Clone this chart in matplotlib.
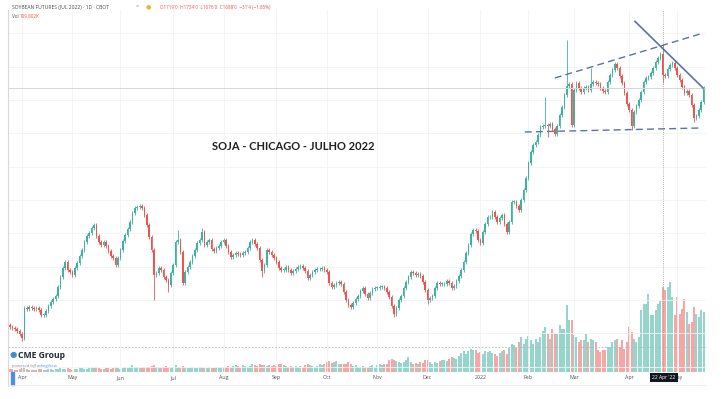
import pandas as pd
import matplotlib.pyplot as plt
from matplotlib.lines import Line2D
from matplotlib.patches import Rectangle

plt.rcParams['font.family'] = ['Open Sans', 'DejaVu Sans']

# daily closes, Jul 2022 soybean futures (cents/bu)
closes = [
    1310, 1308, 1306, 1304, 1299, 1293, 1338, 1336, 1340, 1338,
    1336, 1338, 1335, 1328, 1328, 1334, 1341, 1347, 1352, 1356,
    1370, 1384, 1398, 1407, 1395, 1392, 1388, 1398, 1406, 1416,
    1425, 1437, 1446, 1450, 1458, 1462, 1446, 1437, 1432, 1437,
    1431, 1424, 1416, 1413, 1402, 1413, 1425, 1438, 1448, 1456,
    1467, 1480, 1488, 1490, 1491, 1488, 1478, 1462, 1444, 1425,
    1388, 1390, 1398, 1395, 1384, 1380, 1372, 1390, 1402, 1437,
    1440, 1422, 1376, 1392, 1400, 1407, 1416, 1425, 1436, 1440,
    1452, 1432, 1437, 1440, 1426, 1424, 1428, 1431, 1437, 1440,
    1431, 1422, 1414, 1418, 1420, 1419, 1418, 1420, 1422, 1428,
    1437, 1440, 1434, 1428, 1410, 1394, 1402, 1425, 1422, 1418,
    1413, 1407, 1398, 1395, 1395, 1400, 1395, 1390, 1394, 1396,
    1400, 1401, 1398, 1394, 1383, 1388, 1392, 1395, 1396, 1396,
    1398, 1395, 1392, 1376, 1370, 1372, 1376, 1377, 1374, 1362,
    1350, 1342, 1340, 1346, 1352, 1356, 1364, 1368, 1359, 1353,
    1360, 1366, 1368, 1368, 1370, 1370, 1368, 1362, 1354, 1341,
    1329, 1338, 1350, 1356, 1368, 1377, 1384, 1392, 1390, 1388,
    1389, 1386, 1377, 1365, 1350, 1353, 1356, 1368, 1376, 1374,
    1374, 1374, 1378, 1376, 1368, 1371, 1378, 1386, 1395, 1407,
    1420, 1432, 1449, 1455, 1454, 1440, 1436, 1452, 1464, 1474,
    1474, 1482, 1474, 1467, 1473, 1478, 1464, 1452, 1467, 1497,
    1497, 1491, 1485, 1500, 1515, 1533, 1556, 1572, 1582, 1587,
    1598, 1610, 1611, 1612, 1611, 1614, 1606, 1599, 1611, 1628,
    1640, 1658, 1671, 1674, 1612, 1665, 1676, 1668, 1662, 1668,
    1670, 1665, 1674, 1677, 1676, 1674, 1668, 1664, 1662, 1677,
    1688, 1695, 1704, 1698, 1686, 1676, 1660, 1644, 1635, 1611,
    1632, 1641, 1650, 1662, 1677, 1683, 1684, 1690, 1698, 1707,
    1713, 1719, 1688, 1686, 1696, 1702, 1705, 1698, 1688, 1680,
    1670, 1660, 1664, 1658, 1642, 1623, 1626, 1635, 1647, 1668,
]
first_open = 1312

# volume in thousands of contracts
volumes = [
    4, 4, 3, 3, 4, 5, 7, 4, 3, 3,
    3, 3, 4, 4, 3, 3, 4, 4, 3, 4,
    4, 5, 4, 4, 5, 4, 3, 4, 4, 5,
    5, 4, 4, 5, 6, 5, 6, 5, 4, 4,
    5, 5, 4, 5, 6, 5, 4, 5, 6, 5,
    6, 9, 7, 6, 5, 6, 6, 7, 7, 8,
    9, 7, 6, 6, 7, 8, 7, 6, 7, 9,
    7, 6, 8, 6, 5, 5, 6, 5, 5, 6,
    6, 5, 5, 6, 5, 5, 6, 6, 5, 6,
    7, 8, 7, 8, 9, 8, 7, 9, 8, 7,
    8, 10, 9, 8, 10, 9, 9, 8, 9, 8,
    9, 8, 10, 11, 9, 8, 7, 8, 7, 8,
    7, 8, 7, 9, 11, 9, 8, 7, 8, 10,
    9, 10, 13, 14, 12, 13, 14, 11, 10, 11,
    11, 13, 10, 8, 9, 7, 7, 8, 6, 7,
    8, 9, 7, 9, 10, 9, 10, 11, 15, 17,
    16, 14, 13, 12, 13, 15, 20, 13, 11, 12,
    11, 13, 12, 15, 16, 13, 11, 13, 12, 14,
    15, 16, 14, 17, 19, 18, 17, 21, 25, 27,
    23, 27, 30, 29, 28, 25, 26, 24, 27, 26,
    27, 25, 23, 21, 25, 27, 29, 23, 31, 37,
    35, 31, 39, 45, 37, 43, 47, 41, 37, 43,
    39, 45, 53, 59, 49, 43, 56, 51, 49, 61,
    56, 56, 87, 68, 68, 48, 46, 39, 42, 42,
    49, 39, 43, 42, 39, 29, 26, 29, 29, 32,
    32, 39, 42, 43, 32, 42, 30, 39, 58, 52,
    43, 39, 46, 81, 88, 88, 101, 74, 74, 81,
    88, 94, 110, 107, 110, 117, 98, 74, 98, 75,
    82, 95, 78, 62, 65, 85, 75, 72, 80, 78,
]

# long wicks seen on the chart: day -> (high, low)
wick_ends = {
    5: (None, 1288), 60: (None, 1350), 66: (None, 1362), 70: (1455, None),
    80: (1458, None), 105: (None, 1384), 160: (None, 1324), 174: (None, 1344),
    223: (1654, None), 224: (None, 1594), 232: (1740, None), 242: (1698, None),
    259: (None, 1605), 272: (1734, 1676), 285: (None, 1617),
}

holidays = ['2021-04-02', '2021-05-31', '2021-07-05', '2021-09-06', '2021-11-25',
            '2021-12-24', '2022-01-17', '2022-02-21', '2022-04-15']
cross_day = 272

header_sym = "SOYBEAN FUTURES (JUL 2022) · 1D · CBOT"
header_ohlc = "O1719'0  H1734'0  L1676'0  C1688'0  −31'4 (−1.85%)"
header_vol = "109.802K"
title = "SOJA - CHICAGO - JULHO 2022"

# hand-drawn trend lines, (day, price)
upper_line = [(227, 1683), (287.5, 1749)]
lower_line = [(214.5, 1602), (287.5, 1608)]
down_line = [(260.4, 1768), (288.8, 1668)]

UP, DOWN = '#3db39f', '#ef5350'
VUP, VDOWN = '#95d5cb', '#f6a7a5'

opens = [first_open] + closes[:-1]
highs, lows, cols, vcols = [], [], [], []
for i, (o, c) in enumerate(zip(opens, closes)):
    hi, lo = wick_ends.get(i, (None, None))
    highs.append(hi if hi else max(o, c) + 3)
    lows.append(lo if lo else min(o, c) - 3)
    cols.append(UP if c >= o else DOWN)
    vcols.append(VUP if c >= o else VDOWN)

dates = pd.bdate_range('2021-03-25', '2022-06-30', freq='C', holidays=holidays)[:len(closes)]
months = dates.to_period('M')
tick_idx = [i for i in range(1, len(dates)) if months[i] != months[i - 1]]
tick_lab = ['2022' if dates[i].month == 1 else dates[i].strftime('%b') for i in tick_idx]

W, H = 724, 399
fig = plt.figure(figsize=(W / 100, H / 100), dpi=100)
ax = fig.add_axes([8 / W, 1 - 372 / H, 698 / W, 362 / H])
axv = ax.twinx()
ax.set_zorder(axv.get_zorder() + 1)
ax.patch.set_visible(False)

x = list(range(len(closes)))
axv.bar(x, volumes, width=0.78, color=vcols, linewidth=0)
axv.set_ylim(0, 362 * 1.3)
axv.axis('off')

body_h = [max(abs(c - o), 1) for o, c in zip(opens, closes)]
body_b = [min(o, c) for o, c in zip(opens, closes)]
ax.vlines(x, lows, highs, colors=cols, lw=0.6)
ax.bar(x, body_h, bottom=body_b, width=0.72, color=cols, linewidth=0)

ax.set_xlim(-0.833, 290)
ax.set_ylim(1242, 1785)
ax.set_xticks(tick_idx, tick_lab)
ax.set_yticks(range(1250, 1800, 50))
ax.tick_params(axis='x', length=0, labelsize=3.8, colors='#505050', pad=2.5)
ax.tick_params(axis='y', length=0, labelleft=False)
for s in ax.spines.values():
    s.set_visible(False)
ax.set_axisbelow(True)
ax.grid(color='#f1f2f5', lw=0.6)

ax.axhline(1668, color='#d6d6d6', lw=0.7)
ax.axhline(1279.5, color='#b5b9c3', lw=0.6, ls=(0, (2, 2)))
ax.axvline(cross_day, color='#9a9a9a', lw=0.6, ls=(0, (1, 1.5)))

line_col = '#5673ad'
ax.plot(*zip(*upper_line), color=line_col, lw=1.0, ls=(0, (5, 3)))
ax.plot(*zip(*lower_line), color=line_col, lw=1.0, ls=(0, (5, 3)))
ax.plot(*zip(*down_line), color=line_col, lw=1.2)

fig.text(293 / W, 1 - 147 / H, title, ha='center', va='center', fontsize=8,
         fontweight='bold', family='Lato', color='#1f1f1f')

# header
fig.text(12 / W, 1 - 7 / H, header_sym, fontsize=3.6, color='#4a4a4a', va='center')
fig.text(136 / W, 1 - 7 / H, '=', fontsize=4, color='#4a90d9', va='center')
fig.text(146 / W, 1 - 7 / H, '●', fontsize=4.5, color='#f5b335', va='center')
fig.text(160 / W, 1 - 7 / H, header_ohlc, fontsize=3.3, color='#ef5350', va='center')
fig.text(12 / W, 1 - 17 / H, 'Vol', fontsize=3.3, color='#4a4a4a', va='center')
fig.text(20 / W, 1 - 17 / H, header_vol, fontsize=3.3, color='#ef5350', va='center')

# tooltip under the crosshair
fig.text(664 / W, 1 - 377.5 / H, dates[cross_day].strftime("%d %b '%y"), ha='center',
         va='center', fontsize=3.6, color='white',
         bbox=dict(boxstyle='square,pad=0.4', fc='#131722', ec='none'))

# logo
fig.text(10 / W, 1 - 356 / H, '●', fontsize=6, color='#3d8fd6', va='center')
fig.text(18 / W, 1 - 356 / H, 'CME Group', fontsize=6.2, fontweight='bold',
         color='#232a36', va='center')
fig.text(12 / W, 1 - 365.5 / H, 'powered by', fontsize=3, color='#8a8a8a', va='center')
fig.text(34 / W, 1 - 365.5 / H, 'TradingView', fontsize=3, color='#5c8fe0', va='center')

fig.add_artist(Line2D([8 / W, 8 / W], [1 - 10 / H, 1 - 386 / H], color='#d9d9d9', lw=0.8))
fig.add_artist(Line2D([8 / W, 706 / W], [1 - 385 / H, 1 - 385 / H], color='#ececec', lw=0.6))
fig.add_artist(Rectangle((11 / W, 1 - 385 / H), 3 / W, 13 / H, color='#4f8fdc'))

fig.savefig('out.png', dpi=100)
